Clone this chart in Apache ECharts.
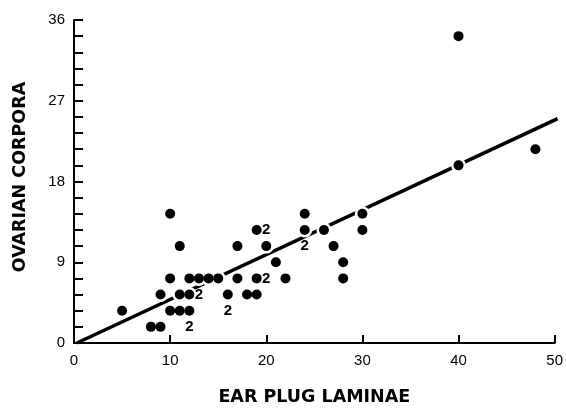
<!DOCTYPE html>
<html>
<head>
<meta charset="utf-8">
<script src="https://cdn.jsdelivr.net/npm/echarts@6/dist/echarts.min.js"></script>
<style>
html,body{margin:0;padding:0;background:#fff;}
#chart{width:566px;height:411px;}
</style>
</head>
<body>
<div id="chart"></div>
<script>
// Observations: ear plug laminae (x) vs ovarian corpora (y)
const laminae = [5, 8, 9, 9, 10, 10, 10, 11, 12, 11, 12, 11, 12, 13, 14, 15, 16, 17, 17, 19, 20, 19, 18, 19, 21, 22, 24, 24, 26, 27, 28, 28, 30, 30, 40, 40, 48];
const corpora = [3.6, 1.8, 1.8, 5.4, 7.2, 14.4, 3.6, 3.6, 3.6, 5.4, 5.4, 10.8, 7.2, 7.2, 7.2, 7.2, 5.4, 7.2, 10.8, 12.6, 10.8, 7.2, 5.4, 5.4, 9, 7.2, 14.4, 12.6, 12.6, 10.8, 9, 7.2, 14.4, 12.6, 34.2, 19.8, 21.6];
// Locations marked "2" (two observations)
const dupLaminae = [12, 13, 16, 20, 20, 24];
const dupCorpora = [1.8, 5.4, 3.6, 12.6, 7.2, 10.8];
const dupText = '2';
// Fitted regression line end points
const fitX = [0.3, 50.3];
const fitY = [0, 25];
// Axis settings
const xTicks = [0, 10, 20, 30, 40, 50];
const yTicks = [0, 9, 18, 27, 36];
const xTitle = 'EAR PLUG LAMINAE';
const yTitle = 'OVARIAN CORPORA';

const pts = laminae.map((x, i) => [x, corpora[i]]);
const dups = dupLaminae.map((x, i) => [x, dupCorpora[i]]);
const fit = fitX.map((x, i) => [x, fitY[i]]);

const chart = echarts.init(document.getElementById('chart'), null, {renderer: 'canvas'});
const titleFont = '"DejaVu Sans", sans-serif';
const tickFont = '"Liberation Sans", Arial, sans-serif';
chart.setOption({
  backgroundColor: '#fff',
  animation: false,
  grid: {left: 74, right: 7, top: 20, bottom: 62},
  xAxis: {
    type: 'value', min: xTicks[0], max: xTicks[xTicks.length - 1], interval: 10,
    name: xTitle, nameLocation: 'middle', nameGap: 45,
    nameTextStyle: {fontFamily: titleFont, fontWeight: 'bold', fontSize: 17.5, color: '#000'},
    axisLine: {show: true, onZero: false, lineStyle: {color: '#000', width: 2}},
    axisTick: {show: true, inside: true, length: 8, lineStyle: {color: '#000', width: 2}},
    axisLabel: {fontFamily: tickFont, fontSize: 15, color: '#000', margin: 10},
    splitLine: {show: false}
  },
  yAxis: {
    type: 'value', min: yTicks[0], max: yTicks[yTicks.length - 1], interval: 9,
    axisLine: {show: true, onZero: false, lineStyle: {color: '#000', width: 2}},
    axisTick: {show: true, inside: true, length: 9, lineStyle: {color: '#000', width: 2}},
    minorTick: {show: true, splitNumber: 5, length: 9, lineStyle: {color: '#000', width: 2}},
    axisLabel: {fontFamily: tickFont, fontSize: 15, color: '#000', margin: 9},
    splitLine: {show: false}
  },
  graphic: [{
    type: 'text', rotation: Math.PI / 2, x: 20, y: 177,
    style: {text: yTitle, font: 'bold 17.5px ' + titleFont, fill: '#000', textAlign: 'center', textVerticalAlign: 'middle'}
  }],
  series: [
    {
      type: 'line', data: fit, showSymbol: false, clip: false, z: 1,
      lineStyle: {color: '#000', width: 3.5}
    },
    {
      type: 'scatter', data: pts, symbol: 'circle', symbolSize: 15, z: 2,
      itemStyle: {color: '#fff', opacity: 1}, silent: true
    },
    {
      type: 'scatter', data: pts, symbol: 'circle', symbolSize: 10, z: 3,
      itemStyle: {color: '#000', opacity: 1}
    },
    {
      type: 'scatter', data: dups, symbolSize: 0, z: 4,
      itemStyle: {color: '#000', opacity: 1},
      label: {show: true, position: 'inside', formatter: dupText, fontFamily: tickFont, fontWeight: 'bold', fontSize: 15,
              color: '#000', textBorderWidth: 0, textBorderColor: 'transparent'}
    }
  ]
});
</script>
</body>
</html>
